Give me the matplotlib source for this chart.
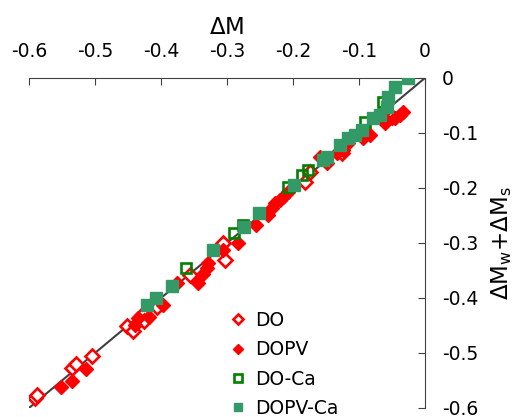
import matplotlib
matplotlib.use('Agg')
import matplotlib.pyplot as plt

plt.rcParams['font.family'] = ['DejaVu Sans']
plt.rcParams['axes.unicode_minus'] = False
plt.rcParams['mathtext.fontset'] = 'dejavusans'

# DO (open red diamonds)
do_x = [-0.591, -0.588, -0.535, -0.529, -0.505, -0.452, -0.442, -0.427, -0.426,
        -0.406, -0.356, -0.306, -0.303, -0.182, -0.174, -0.126, -0.050]
do_y = [-0.582, -0.576, -0.527, -0.520, -0.505, -0.451, -0.460, -0.429, -0.442,
        -0.416, -0.358, -0.300, -0.331, -0.189, -0.171, -0.136, -0.071]

# DOPV (filled red diamonds)
dopv_x = [-0.552, -0.535, -0.514, -0.439, -0.435, -0.418, -0.397, -0.376, -0.344,
          -0.336, -0.330, -0.329, -0.306, -0.283, -0.256, -0.238, -0.232, -0.227,
          -0.220, -0.215, -0.208, -0.159, -0.148, -0.133, -0.124, -0.117, -0.094,
          -0.083, -0.064, -0.061, -0.045, -0.038, -0.033]
dopv_y = [-0.562, -0.551, -0.529, -0.449, -0.436, -0.435, -0.413, -0.373, -0.373,
          -0.356, -0.345, -0.336, -0.313, -0.300, -0.267, -0.249, -0.236, -0.227,
          -0.222, -0.216, -0.207, -0.144, -0.155, -0.136, -0.131, -0.118, -0.109,
          -0.104, -0.071, -0.082, -0.073, -0.067, -0.062]

# DO-Ca (open green squares)
doca_x = [-0.362, -0.289, -0.276, -0.208, -0.186, -0.177, -0.091, -0.064]
doca_y = [-0.345, -0.282, -0.267, -0.198, -0.176, -0.167, -0.080, -0.044]

# DOPV-Ca (filled green squares)
dopvca_x = [-0.421, -0.408, -0.383, -0.321, -0.274, -0.252, -0.198, -0.155, -0.148,
            -0.129, -0.117, -0.106, -0.095, -0.079, -0.068, -0.058, -0.056, -0.045,
            -0.026]
dopvca_y = [-0.413, -0.400, -0.378, -0.313, -0.271, -0.245, -0.195, -0.149, -0.144,
            -0.122, -0.109, -0.104, -0.095, -0.073, -0.067, -0.053, -0.035, -0.016,
            0.000]

ticks = [-0.6, -0.5, -0.4, -0.3, -0.2, -0.1, 0]
tick_labels = ['-0.6', '-0.5', '-0.4', '-0.3', '-0.2', '-0.1', '0']

fig = plt.figure(figsize=(5.16, 4.17), dpi=100)
ax = fig.add_axes([0.0562, 0.0216, 0.7674, 0.7914])

ax.plot([-0.6, 0], [-0.6, 0], color='#404040', lw=1.5, zorder=1)

ax.plot(do_x, do_y, 'D', ms=6.8, mfc='white', mec='red', mew=1.9, ls='none', label='DO', zorder=2)
ax.plot(dopv_x, dopv_y, 'D', ms=7.4, mfc='red', mec='red', mew=1, ls='none', label='DOPV', zorder=2)
ax.plot(doca_x, doca_y, 's', ms=7.5, mfc='none', mec='#008000', mew=1.9, ls='none', label='DO-Ca', zorder=3)
ax.plot(dopvca_x, dopvca_y, 's', ms=8.5, mfc='#339966', mec='#339966', mew=1, ls='none', label='DOPV-Ca', zorder=3)

ax.set_xlim(-0.6, 0)
ax.set_ylim(-0.6, 0)
ax.set_xticks(ticks)
ax.set_xticklabels(tick_labels)
ax.set_yticks(ticks)
ax.set_yticklabels(tick_labels)

ax.spines['left'].set_visible(False)
ax.spines['bottom'].set_visible(False)
ax.spines['top'].set_color('#404040')
ax.spines['right'].set_color('#404040')
ax.xaxis.tick_top()
ax.yaxis.tick_right()
ax.xaxis.set_label_position('top')
ax.yaxis.set_label_position('right')
ax.tick_params(axis='both', direction='in', length=5, color='#404040', labelsize=13.5, pad=12)

ax.set_xlabel(r'$\Delta$M', fontsize=16.5, labelpad=6)
ax.set_ylabel(r'$\Delta\mathrm{M_w}{+}\Delta\mathrm{M_s}$', fontsize=16.5, labelpad=8)

leg = ax.legend(loc='lower left', bbox_to_anchor=(0.51, -0.03), frameon=False, fontsize=13.5,
                handlelength=0.8, handletextpad=0.5, labelspacing=0.55, markerscale=0.75,
                borderpad=0, borderaxespad=0)

fig.savefig('out.png', dpi=100)
